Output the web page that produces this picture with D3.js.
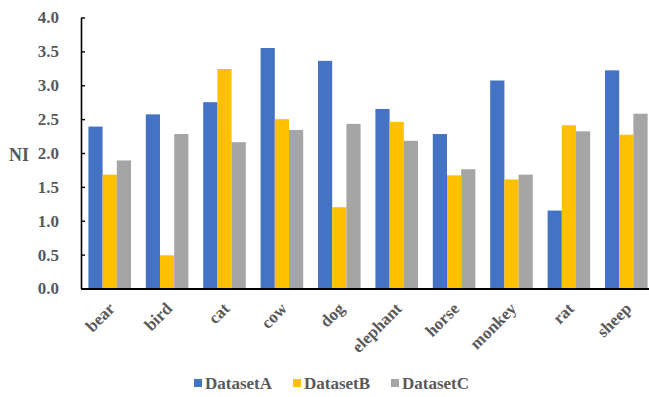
<!DOCTYPE html>
<html>
<head>
<meta charset="utf-8">
<script src="https://cdn.jsdelivr.net/npm/d3@7"></script>
<style>
  html, body { margin: 0; padding: 0; background: #fff; }
  svg { display: block; }
</style>
</head>
<body>
<svg id="chart" width="649" height="397"></svg>
<script>
// Categories and per-dataset NI values
const categories = ["bear", "bird", "cat", "cow", "dog", "elephant", "horse", "monkey", "rat", "sheep"];
const seriesNames = ["DatasetA", "DatasetB", "DatasetC"];
const datasetA = [2.39, 2.57, 2.75, 3.55, 3.36, 2.65, 2.28, 3.07, 1.15, 3.22];
const datasetB = [1.68, 0.49, 3.24, 2.50, 1.20, 2.46, 1.67, 1.61, 2.41, 2.27];
const datasetC = [1.89, 2.28, 2.16, 2.34, 2.43, 2.18, 1.76, 1.68, 2.32, 2.58];
const yTicks = [0, 0.5, 1.0, 1.5, 2.0, 2.5, 3.0, 3.5, 4.0];
const colors = ["#4472C4", "#FFC000", "#A5A5A5"];

const series = [datasetA, datasetB, datasetC];
const svg = d3.select("#chart");
const font = "'Liberation Serif', 'Times New Roman', serif";
const textColor = "#595959";

const plotLeft = 81, plotTop = 17.5, plotBottom = 288.5;
const plotRight = 655;

const x = d3.scaleBand().domain(categories).range([plotLeft, plotRight]).paddingInner(0.258).paddingOuter(0.129);
const xSub = d3.scaleBand().domain(seriesNames).range([0, x.bandwidth()]);
const y = d3.scaleLinear().domain([0, 4]).range([plotBottom, plotTop]);

// Bars
const groups = svg.append("g").selectAll("g")
  .data(categories)
  .join("g")
  .attr("transform", d => `translate(${x(d)},0)`);

groups.selectAll("rect")
  .data((c, i) => seriesNames.map((s, k) => ({ s, k, v: series[k][i] })))
  .join("rect")
  .attr("x", d => xSub(d.s))
  .attr("width", xSub.bandwidth())
  .attr("y", d => y(d.v))
  .attr("height", d => y(0) - y(d.v))
  .attr("fill", d => colors[d.k]);

// Y axis with inward ticks
const yAxis = svg.append("g")
  .attr("transform", `translate(${plotLeft},0)`)
  .call(d3.axisLeft(y).tickValues(yTicks).tickSize(-4).tickPadding(22).tickFormat(d3.format(".1f")).tickSizeOuter(0));
yAxis.select(".domain").attr("stroke", "#000").attr("stroke-width", 1.6);
yAxis.selectAll(".tick line").attr("stroke", "#000").attr("stroke-width", 1.4);
yAxis.selectAll(".tick text")
  .attr("font-family", font).attr("font-weight", "bold").attr("font-size", 17)
  .attr("fill", textColor);

// X axis
const xAxis = svg.append("g")
  .attr("transform", `translate(0,${plotBottom})`)
  .call(d3.axisBottom(x).tickSize(0).tickSizeOuter(0));
xAxis.select(".domain").attr("stroke", "#000").attr("stroke-width", 2);
xAxis.selectAll(".tick text")
  .attr("font-family", font).attr("font-weight", "bold").attr("font-size", 17)
  .attr("fill", textColor)
  .attr("text-anchor", "end")
  .attr("dy", 0)
  .attr("transform", "translate(4,19) rotate(-45)");

// Y axis title
svg.append("text")
  .attr("x", 9).attr("y", 161)
  .attr("font-family", font).attr("font-weight", "bold").attr("font-size", 18)
  .attr("fill", textColor)
  .text("NI");

// Legend
const legendX = [194, 293, 391];
const legend = svg.append("g").selectAll("g")
  .data(seriesNames)
  .join("g")
  .attr("transform", (d, i) => `translate(${legendX[i]},383)`);
legend.append("rect")
  .attr("x", 0).attr("y", -4).attr("width", 8).attr("height", 8)
  .attr("fill", (d, i) => colors[i]);
legend.append("text")
  .attr("x", 11).attr("y", 5.5)
  .attr("font-family", font).attr("font-weight", "bold").attr("font-size", 17)
  .attr("fill", textColor)
  .text(d => d);
</script>
</body>
</html>
